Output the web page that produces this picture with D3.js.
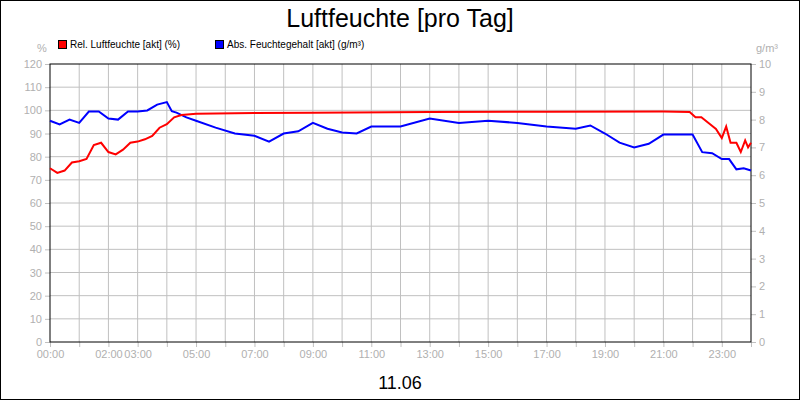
<!DOCTYPE html>
<html><head><meta charset="utf-8">
<script src="https://cdn.jsdelivr.net/npm/d3@7"></script>
<style>body{margin:0;background:#fff}svg{font-family:Arial,"Liberation Sans",sans-serif}</style>
</head><body><svg width="800" height="400"></svg>
<script>
// hours of day
const relHours = [0,0.25,0.5,0.75,1,1.25,1.5,1.75,2,2.25,2.5,2.75,3,3.25,3.5,3.75,4,4.25,4.5,5,7,9,13,17,21,21.9,22.1,22.3,22.6,22.8,23,23.15,23.3,23.5,23.65,23.8,23.9,24];
const relValues = [75,73,74,77.5,78,79,85,86,82,81,83,86,86.5,87.5,89,92.5,94,97,98,98.5,98.8,99,99.3,99.4,99.5,99.3,97,97,94,92,88,93,86,86,82,87,84,86];
const absHours = [0,0.33,0.67,1,1.33,1.67,2,2.33,2.67,3,3.33,3.67,4,4.17,4.33,4.67,5,5.67,6.33,7,7.5,8,8.5,9,9.5,10,10.5,11,12,13,14,15,16,17,18,18.5,19,19.5,20,20.5,21,21.5,22,22.33,22.67,23,23.25,23.5,23.75,24];
const absValues = [7.96,7.83,8.0,7.88,8.29,8.29,8.04,8.0,8.29,8.29,8.33,8.54,8.63,8.3,8.25,8.08,7.96,7.71,7.5,7.42,7.21,7.5,7.58,7.88,7.67,7.54,7.5,7.75,7.75,8.04,7.88,7.96,7.88,7.75,7.67,7.79,7.5,7.17,7.0,7.13,7.46,7.46,7.46,6.83,6.79,6.58,6.58,6.21,6.25,6.17];
const xTickLabels = ["00:00","02:00","03:00","05:00","07:00","09:00","11:00","13:00","15:00","17:00","19:00","21:00","23:00"];
const xTickHours = [0,2,3,5,7,9,11,13,15,17,19,21,23];

const svg = d3.select("svg");
const m = {l:50, r:49, t:64, b:58};
const W = 800, H = 400;
const x = d3.scaleLinear().domain([0,24]).range([m.l, W-m.r]);
const yL = d3.scaleLinear().domain([0,120]).range([H-m.b, m.t]);
const yR = d3.scaleLinear().domain([0,10]).range([H-m.b, m.t]);
const gray = "#c0c0c0";

svg.append("rect").attr("x",0.5).attr("y",0.5).attr("width",W-1).attr("height",H-1).attr("fill","#fff").attr("stroke","#000");

// grid
svg.append("g").selectAll("line").data(d3.range(1,24)).join("line")
  .attr("x1",d=>x(d)).attr("x2",d=>x(d)).attr("y1",m.t).attr("y2",H-m.b).attr("stroke",gray);
svg.append("g").selectAll("line").data(d3.range(10,120,10)).join("line")
  .attr("x1",m.l).attr("x2",W-m.r).attr("y1",d=>yL(d)).attr("y2",d=>yL(d)).attr("stroke",gray);

// axes
const axL = svg.append("g").attr("transform",`translate(${m.l},0)`)
  .call(d3.axisLeft(yL).tickValues(d3.range(0,121,10)).tickSize(5).tickPadding(3));
const axR = svg.append("g").attr("transform",`translate(${W-m.r},0)`)
  .call(d3.axisRight(yR).tickValues(d3.range(0,11,1)).tickSize(5).tickPadding(3));
const axB = svg.append("g").attr("transform",`translate(0,${H-m.b})`)
  .call(d3.axisBottom(x).tickValues(d3.range(0,25,1)).tickSize(5).tickPadding(3)
    .tickFormat(d=>{const i=xTickHours.indexOf(d);return i<0?"":xTickLabels[i];}));
[axL,axR,axB].forEach(a=>{
  a.select(".domain").remove();
  a.selectAll(".tick line").attr("stroke",gray);
  a.selectAll("text").attr("fill","#b0b0b0").style("font-size","11px").style("font-family","Arial,sans-serif");
});
svg.append("rect").attr("x",m.l).attr("y",m.t).attr("width",W-m.l-m.r).attr("height",H-m.t-m.b)
  .attr("fill","none").attr("stroke","#000");

svg.append("text").attr("x",42).attr("y",52).attr("text-anchor","middle").attr("fill","#b0b0b0").style("font-size","11px").text("%");
svg.append("text").attr("x",767).attr("y",52).attr("text-anchor","middle").attr("fill","#b0b0b0").style("font-size","11px").text("g/m³");

// lines
const lineRel = d3.line().x((d,i)=>x(relHours[i])).y(d=>yL(d));
const lineAbs = d3.line().x((d,i)=>x(absHours[i])).y(d=>yR(d));
svg.append("path").attr("d",lineAbs(absValues)).attr("fill","none").attr("stroke","#0000ff").attr("stroke-width",2);
svg.append("path").attr("d",lineRel(relValues)).attr("fill","none").attr("stroke","#ff0000").attr("stroke-width",2);

// titles
svg.append("text").attr("x",400).attr("y",27).attr("text-anchor","middle").style("font-size","25px").text("Luftfeuchte [pro Tag]");
svg.append("text").attr("x",400).attr("y",389).attr("text-anchor","middle").style("font-size","18px").text("11.06");

// legend
const legend = [["Rel. Luftfeuchte [akt] (%)","#ff0000",58],["Abs. Feuchtegehalt [akt] (g/m³)","#0000ff",215]];
legend.forEach(([t,c,lx])=>{
  svg.append("rect").attr("x",lx+0.5).attr("y",40.5).attr("width",8).attr("height",8).attr("fill",c).attr("stroke","#000");
  svg.append("text").attr("x",lx+12).attr("y",48).style("font-size","10px").text(t);
});
</script></body></html>
